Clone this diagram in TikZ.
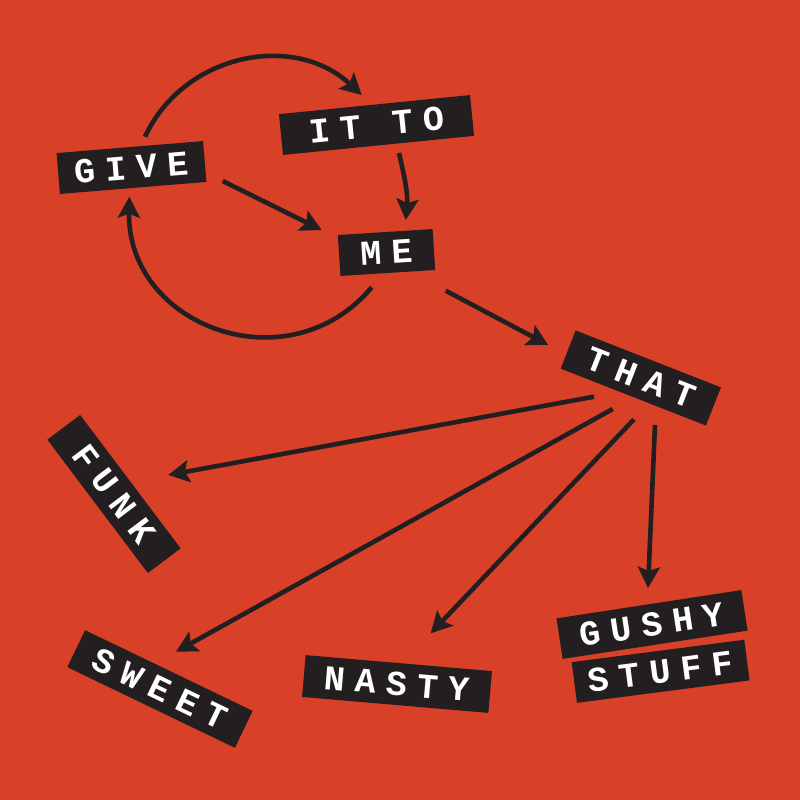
\documentclass[tikz,border=0pt]{standalone}
\usepackage{fontspec}
\newfontfamily\lblfont{Liberation Mono}[LetterSpace=29]
\usetikzlibrary{arrows.meta,calc}
\definecolor{bgred}{HTML}{D84028}
\definecolor{boxblack}{HTML}{231F20}

\begin{document}
\begin{tikzpicture}[x=1pt,y=-1pt]
\tikzstyle{every node} = [fill=boxblack, text=white, inner sep=0, minimum height=41pt, font={\lblfont\bfseries\fontsize{35}{35}\selectfont}]
\tikzstyle{edge} = [draw=boxblack, line width=4.6pt, -{Stealth[length=21pt,width=22pt,inset=4pt]}]
\fill[bgred] (0,0) rectangle (800,800);
\useasboundingbox (0,0) rectangle (800,800);
% labels
\node[minimum width=147pt, rotate=4.7] (give) at (131.5,167.5) {GIVE};
\node[minimum width=192pt, rotate=5.7] (itto) at (376.5,125) {IT TO};
\node[minimum width=95pt, rotate=3.6] (me) at (386.5,252.5) {ME};
\node[minimum width=156pt, rotate=-21.4] (that) at (640.8,378) {THAT};
\node[minimum width=167pt, rotate=-53] (funk) at (114,494) {FUNK};
\node[minimum width=186pt, rotate=-25.7] (sweet) at (160,689) {SWEET};
\node[minimum width=187pt, minimum height=42pt, rotate=-4.9] (nasty) at (397,684) {NASTY};
\node[minimum width=187pt, rotate=8.7] (gushy) at (652,624.5) {GUSHY};
\node[minimum width=174pt, rotate=7.4] (stuff) at (660.6,671.3) {STUFF};
% loop
\draw[edge] ($(give)+(13.5,-30.8)$) to[out=65,in=137,looseness=1.07] ($(itto)+(-14.8,-30)$);
\draw[edge] ($(itto)+(22.5,28)$) to[out=-77,in=85] ($(me)+(19.2,-32.5)$);
\draw[edge] ($(give)+(91.2,13.5)$) -- ($(me)+(-64.8,-22.5)$);
\draw[edge] ($(me)+(-14.8,34.8)$) to[out=-130,in=-91,looseness=1.28] ($(give)+(-2.2,29.2)$);
% fan out
\draw[edge] ($(me)+(59.2,38.2)$) -- ($(that)+(-92.5,-33)$);
\draw[edge] ($(that)+(-46.8,18.7)$) -- ($(funk)+(54.3,-19)$);
\draw[edge] ($(that)+(-28.1,31)$) -- ($(sweet)+(16,-37.3)$);
\draw[edge] ($(that)+(-6.8,41.3)$) -- ($(nasty)+(33.7,-50.7)$);
\draw[edge] ($(that)+(14.2,47)$) -- ($(gushy)+(-4,-36.5)$);
\end{tikzpicture}
\end{document}
